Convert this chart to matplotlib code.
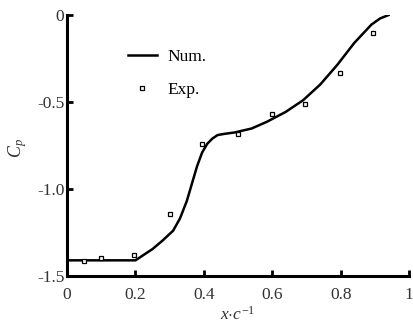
#! /usr/bin/env python3

'''
Pressure coefficient along the chord: numerical curve vs experiment.
'''

import matplotlib
matplotlib.use('Agg')
import matplotlib.pyplot as plt


# numerical solution
num_x = [0.0, 0.2, 0.223, 0.25, 0.28, 0.31, 0.33, 0.35, 0.365, 0.38,
         0.395, 0.41, 0.425, 0.44, 0.46, 0.49, 0.54, 0.585, 0.64, 0.69,
         0.74, 0.79, 0.84, 0.89, 0.915, 0.94]
num_cp = [-1.41, -1.41, -1.38, -1.345, -1.295, -1.24, -1.17, -1.07, -0.97,
          -0.87, -0.79, -0.74, -0.71, -0.69, -0.683, -0.675, -0.652, -0.613,
          -0.556, -0.49, -0.40, -0.287, -0.16, -0.055, -0.02, 0.0]

# experimental points
exp_x = [0.05, 0.10, 0.197, 0.30, 0.396, 0.499, 0.599, 0.697, 0.799, 0.895]
exp_cp = [-1.412, -1.397, -1.381, -1.142, -0.743, -0.684, -0.571, -0.513,
          -0.335, -0.103]

x_ticks = [0, 0.2, 0.4, 0.6, 0.8, 1]
x_labels = ['0', '0.2', '0.4', '0.6', '0.8', '1']
y_ticks = [0, -0.5, -1.0, -1.5]
y_labels = ['0', '-0.5', '-1.0', '-1.5']

plt.rcParams['font.family'] = ['Liberation Serif', 'DejaVu Serif']
plt.rcParams['mathtext.fontset'] = 'custom'
plt.rcParams['mathtext.it'] = 'Liberation Serif:italic'
plt.rcParams['mathtext.rm'] = 'Liberation Serif'

fig = plt.figure(figsize=(4.14, 3.27), dpi=100)
ax = fig.add_axes([0.162, 0.156, 0.826, 0.798])

ax.plot(num_x, num_cp, color='black', linewidth=1.8, label='Num.')
ax.plot(exp_x, exp_cp, linestyle='none', marker='s', markersize=3,
        markerfacecolor='white', markeredgecolor='black',
        markeredgewidth=0.9, label='Exp.')

ax.set_xlim(0, 1)
ax.set_ylim(-1.5, 0)
ax.set_xticks(x_ticks)
ax.set_xticklabels(x_labels)
ax.set_yticks(y_ticks)
ax.set_yticklabels(y_labels)
ax.tick_params(direction='in', length=4, width=2, labelsize=12.5,
               colors='black', labelcolor='#333333')
ax.tick_params(axis='x', pad=8)
ax.tick_params(axis='y', pad=2)

for spine in 'right', 'top':
    ax.spines[spine].set_color('none')
for spine in 'left', 'bottom':
    ax.spines[spine].set_linewidth(2.2)

ax.set_ylabel('$C_p$', fontsize=13, color='#333333')
ax.yaxis.set_label_coords(-0.11, 0.49)
ax.set_xlabel(r'$x{\cdot}c^{\mathrm{-1}}$', fontsize=12.5, labelpad=2,
              color='#333333')

ax.legend(loc='upper left', bbox_to_anchor=(112 / 414, 1 - 33 / 327),
          bbox_transform=fig.transFigure, frameon=False, fontsize=12.5,
          handlelength=1.7, handletextpad=0.6, labelspacing=1.0)

fig.savefig('out.png', dpi=100)
plt.close('all')
